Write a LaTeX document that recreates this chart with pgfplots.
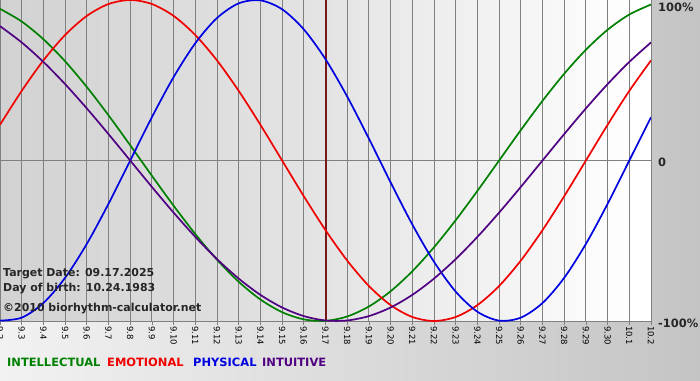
\documentclass[border=0pt]{standalone}
\usepackage{pgfplots}
\usepackage{pgfplotstable}
\pgfplotsset{compat=1.18}
\usepackage{fontspec}
\setmainfont{DejaVu Sans}
\definecolor{cInt}{RGB}{0,128,0}
\definecolor{cEmo}{RGB}{240,0,0}
\definecolor{cPhy}{RGB}{0,0,225}
\definecolor{cItu}{RGB}{80,0,130}
\definecolor{todayline}{RGB}{120,25,25}
\definecolor{gridgray}{RGB}{128,128,128}
\definecolor{bgA}{RGB}{210,210,210}
\definecolor{bgB}{RGB}{228,228,228}
\definecolor{outA}{RGB}{242,242,242}
\definecolor{outB}{RGB}{196,196,196}
\pgfdeclarehorizontalshading{plotbg}{100bp}{color(0bp)=(bgA); color(25bp)=(bgA); color(50bp)=(bgB); color(74bp)=(white); color(100bp)=(white)}
\pgfdeclarehorizontalshading{outerbg}{100bp}{color(0bp)=(outA); color(25bp)=(outA); color(75bp)=(outB); color(100bp)=(outB)}

\pgfplotstableread{
t phy emo int itu
0 -0.9977 0.2225 0.9450 0.8372
1 -0.9791 0.4339 0.8660 0.7357
2 -0.8879 0.6235 0.7557 0.6142
3 -0.7308 0.7818 0.6182 0.4759
4 -0.5196 0.9010 0.4582 0.3247
5 -0.2698 0.9749 0.2817 0.1646
6 0 1 0.0951 0
7 0.2698 0.9749 -0.0951 -0.1646
8 0.5196 0.9010 -0.2817 -0.3247
9 0.7308 0.7818 -0.4582 -0.4759
10 0.8879 0.6235 -0.6182 -0.6142
11 0.9791 0.4339 -0.7557 -0.7357
12 0.9977 0.2225 -0.8660 -0.8372
13 0.9423 0 -0.9450 -0.9158
14 0.8170 -0.2225 -0.9898 -0.9694
15 0.6311 -0.4339 -0.9989 -0.9966
16 0.3984 -0.6235 -0.9718 -0.9966
17 0.1362 -0.7818 -0.9096 -0.9694
18 -0.1362 -0.9010 -0.8146 -0.9158
19 -0.3984 -0.9749 -0.6901 -0.8372
20 -0.6311 -1 -0.5406 -0.7357
21 -0.8170 -0.9749 -0.3717 -0.6142
22 -0.9423 -0.9010 -0.1893 -0.4759
23 -0.9977 -0.7818 0 -0.3247
24 -0.9791 -0.6235 0.1893 -0.1646
25 -0.8879 -0.4339 0.3717 0
26 -0.7308 -0.2225 0.5406 0.1646
27 -0.5196 0 0.6901 0.3247
28 -0.2698 0.2225 0.8146 0.4759
29 0 0.4339 0.9096 0.6142
30 0.2698 0.6235 0.9718 0.7357
}\bio

\begin{document}
\begin{tikzpicture}[x=1bp,y=1bp]
\useasboundingbox (0,0) rectangle (700,380);
\shade[shading=outerbg] (0,0) rectangle (700,380);
\begin{axis}[
  at={(0bp,59bp)}, anchor=south west,
  scale only axis, width=651bp, height=321bp,
  xmin=0, xmax=30, ymin=-1, ymax=1,
  axis y line=none, axis x line*=bottom,
  axis line style={gridgray, line width=1bp},
  axis background/.style={shade, shading=plotbg},
  xtick={0,...,30},
  xticklabels={9.2,9.3,9.4,9.5,9.6,9.7,9.8,9.9,9.10,9.11,9.12,9.13,9.14,9.15,9.16,9.17,9.18,9.19,9.20,9.21,9.22,9.23,9.24,9.25,9.26,9.27,9.28,9.29,9.30,10.1,10.2},
  xmajorgrids,
  major grid style={gridgray, line width=1bp},
  tick align=outside, major tick length=4bp,
  tick style={gridgray, line width=0.8bp},
  xticklabel style={rotate=-90, anchor=west, font=\fontsize{8.5}{9}\selectfont, inner sep=1bp, text=black},
  clip=true,
]
\draw[gridgray, line width=1bp] (axis cs:0,0) -- (axis cs:30,0);
\draw[todayline, line width=2bp] (axis cs:15,-1) -- (axis cs:15,1);
\addplot[cInt, line width=1.7bp, smooth] table[x=t, y=int] {\bio};
\addplot[cEmo, line width=1.7bp, smooth] table[x=t, y=emo] {\bio};
\addplot[cPhy, line width=1.7bp, smooth] table[x=t, y=phy] {\bio};
\addplot[cItu, line width=1.7bp, smooth] table[x=t, y=itu] {\bio};
\end{axis}
\begin{scope}[every node/.style={inner sep=0pt, font=\bfseries\fontsize{11.5}{12}\selectfont, text=black!85}]
\node[anchor=west] at (658,373) {100\%};
\node[anchor=west] at (658,218) {0};
\node[anchor=west] at (658,57) {-100\%};
\end{scope}
\begin{scope}[every node/.style={inner sep=0pt, anchor=base west, font=\bfseries\fontsize{11}{12}\selectfont, text=black!85}]
\node at (3,104) {Target Date: 09.17.2025};
\node at (3,89) {Day of birth: 10.24.1983};
\node at (3,69) {©2010 biorhythm-calculator.net};
\end{scope}
\begin{scope}[every node/.style={inner sep=0pt, anchor=base west, font=\bfseries\fontsize{11.5}{12}\selectfont}]
\node[text=cInt] at (7,14) {INTELLECTUAL};
\node[text=cEmo] at (107,14) {EMOTIONAL};
\node[text=cPhy] at (193,14) {PHYSICAL};
\node[text=cItu] at (262,14) {INTUITIVE};
\end{scope}
\end{tikzpicture}
\end{document}
